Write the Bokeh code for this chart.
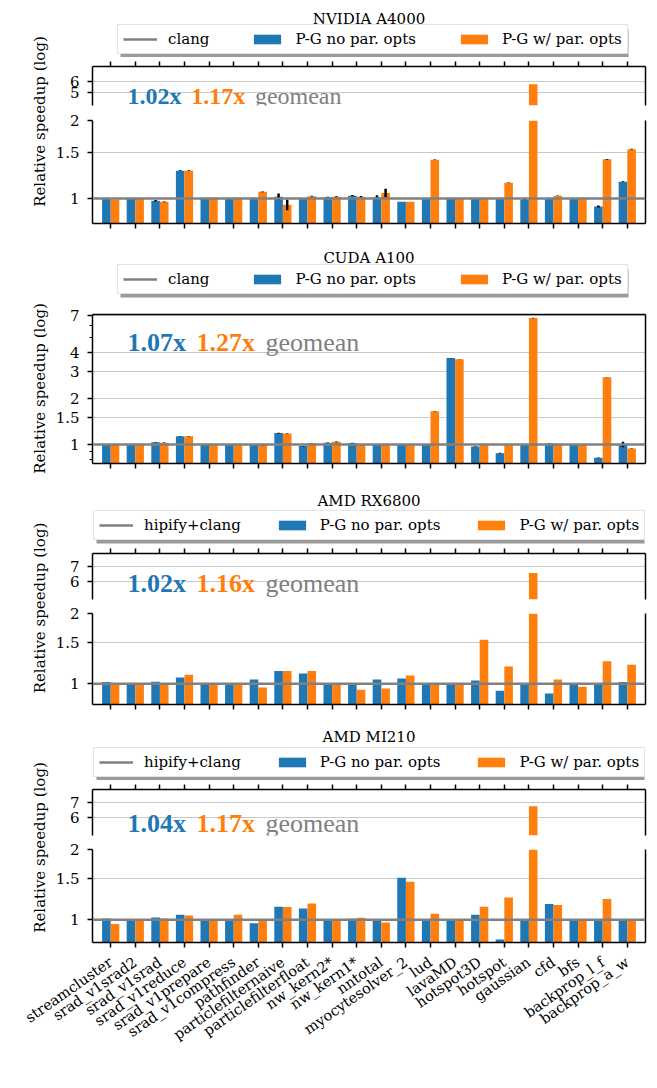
from math import pi
from bokeh.plotting import figure
from bokeh.models import (FactorRange, Range1d, FixedTicker, NumeralTickFormatter, Span, Label,
                          Legend, LegendItem, ColumnDataSource, LinearAxis, CategoricalAxis,
                          CDSView, BooleanFilter, BoxAnnotation)
from bokeh.transform import dodge
from bokeh.layouts import column, row
from bokeh.embed import file_html
from bokeh.resources import INLINE

# ---------------- data ----------------
benchmarks = ["streamcluster", "srad_v1srad2", "srad_v1srad", "srad_v1reduce", "srad_v1prepare",
              "srad_v1compress", "pathfinder", "particlefilternaive", "particlefilterfloat",
              "nw_kern2*", "nw_kern1*", "nntotal", "myocytesolver_2", "lud", "lavaMD",
              "hotspot3D", "hotspot", "gaussian", "cfd", "bfs", "backprop_l_f", "backprop_a_w"]

clang_baseline = [1.0] * len(benchmarks)

a4000_nopar = [1.00, 1.00, 0.98, 1.28, 1.00, 1.00, 1.00, 1.015, 1.00, 1.01, 1.025, 1.01,
               0.97, 1.00, 1.00, 1.00, 1.00, 0.99, 1.00, 1.00, 0.93, 1.16]
a4000_par = [0.99, 1.00, 0.97, 1.28, 1.00, 1.00, 1.06, 0.945, 1.02, 1.015, 1.015, 1.05,
             0.97, 1.41, 1.00, 1.00, 1.15, 5.7, 1.024, 1.00, 1.416, 1.55]
a4000_nopar_err = [0, 0, 0.006, 0.004, 0, 0.004, 0.006, 0.03, 0, 0.004, 0.006, 0.018,
                   0, 0, 0, 0, 0, 0.004, 0, 0.004, 0.008, 0.004]
a4000_par_err = [0, 0, 0.004, 0.004, 0, 0, 0.004, 0.045, 0.003, 0.004, 0.006, 0.04,
                 0, 0.003, 0, 0, 0.003, 0.02, 0.003, 0.006, 0.004, 0.004]

a100_nopar = [1.00, 1.00, 1.035, 1.13, 1.00, 1.00, 1.00, 1.186, 0.975, 1.025, 1.02, 1.00,
              1.00, 1.00, 3.68, 0.97, 0.877, 1.00, 1.015, 1.00, 0.818, 1.00]
a100_par = [1.00, 1.00, 1.025, 1.13, 1.00, 1.00, 0.99, 1.18, 1.02, 1.04, 0.99, 1.00,
            1.00, 1.65, 3.61, 1.00, 1.00, 6.73, 1.00, 1.00, 2.75, 0.94]
a100_nopar_err = [0.005, 0.004, 0.004, 0.004, 0.003, 0.003, 0.006, 0.005, 0.004, 0.004, 0.007, 0.006,
                  0.006, 0.007, 0.01, 0.004, 0.004, 0.006, 0.006, 0.007, 0.004, 0.04]
a100_par_err = [0.005, 0.004, 0.004, 0.004, 0.003, 0.003, 0.006, 0.005, 0.003, 0.005, 0.004, 0.006,
                0.006, 0.006, 0.01, 0.004, 0.004, 0.02, 0.004, 0.008, 0.01, 0.004]

rx6800_nopar = [1.017, 1.00, 1.02, 1.064, 1.00, 1.00, 1.043, 1.133, 1.106, 1.00, 1.00, 1.043,
                1.053, 1.00, 1.00, 1.033, 0.934, 1.00, 0.909, 1.00, 1.00, 1.017]
rx6800_par = [1.00, 1.00, 1.00, 1.092, 1.00, 1.00, 0.964, 1.133, 1.133, 1.00, 0.943, 0.955,
              1.085, 1.00, 1.00, 1.545, 1.185, 6.55, 1.043, 0.971, 1.25, 1.205]

mi210_nopar = [1.013, 1.00, 1.023, 1.051, 1.00, 1.00, 0.968, 1.138, 1.119, 1.00, 1.01, 1.00,
               1.514, 1.00, 1.00, 1.051, 0.825, 1.00, 1.169, 1.00, 1.00, 1.00]
mi210_par = [0.961, 1.00, 1.013, 1.045, 1.00, 1.051, 1.00, 1.135, 1.176, 1.00, 1.02, 0.974,
             1.455, 1.061, 1.00, 1.138, 1.245, 6.74, 1.157, 1.00, 1.228, 1.00]

titles = ["NVIDIA A4000", "CUDA A100", "AMD RX6800", "AMD MI210"]
baseline_names = ["clang", "clang", "hipify+clang", "hipify+clang"]
geomean_nopar = ["1.02x", "1.07x", "1.02x", "1.04x"]
geomean_par = ["1.17x", "1.27x", "1.16x", "1.17x"]
series_names = ["P-G no par. opts", "P-G w/ par. opts"]
ylabel_text = "Relative speedup (log)"

# ---------------- style ----------------
FONT = "DejaVu Serif"
GEOFONT = "Liberation Serif"
BLUE, ORANGE, GRAY, GRID = "#1f77b4", "#ff7f0e", "#808080", "#c8c8c8"
SHADOW = "#9a9a9a"
LEFT_W = 52
FIG_W = 603
BORDER_L, BORDER_R = 40, 10
FRAME_W = FIG_W - BORDER_L - BORDER_R
UP_TOP = 9
BAR_W = 0.35
BAR_FLOOR = 0.5
LEG_H = 28

x_range = FactorRange(factors=benchmarks, range_padding=0.24, range_padding_units="absolute")


def make_source(nopar, par, nopar_err=None, par_err=None):
    n = len(benchmarks)
    nopar_err = nopar_err or [0] * n
    par_err = par_err or [0] * n
    return ColumnDataSource(dict(
        bench=benchmarks, nopar=nopar, par=par, base=clang_baseline,
        nopar_lo=[v - e for v, e in zip(nopar, nopar_err)],
        nopar_hi=[v + e for v, e in zip(nopar, nopar_err)],
        par_lo=[v - e for v, e in zip(par, par_err)],
        par_hi=[v + e for v, e in zip(par, par_err)]))


def style_axis(ax):
    ax.axis_line_color = "black"
    ax.axis_line_width = 1.5
    ax.major_tick_line_color = "black"
    ax.major_tick_line_width = 1.5
    ax.major_tick_in = 0
    ax.major_tick_out = 5
    ax.minor_tick_line_color = "black"
    ax.minor_tick_line_width = 1.2
    ax.minor_tick_in = 0
    ax.minor_tick_out = 3
    ax.major_label_text_font = FONT
    ax.major_label_text_font_size = "15px"
    ax.major_label_text_color = "black"


def hide_labels(ax):
    ax.major_label_overrides = {b: "" for b in benchmarks}
    ax.major_label_text_color = None
    ax.major_label_text_font_size = "1px"
    ax.major_label_standoff = 0


def make_fig(height, b_top, b_bottom, y_lo, y_hi, yticks, yminor, xloc):
    p = figure(width=FIG_W, height=height, x_range=x_range, y_range=Range1d(y_lo, y_hi),
               y_axis_type="log", x_axis_location=xloc, output_backend="svg",
               toolbar_location=None, min_border_left=BORDER_L, min_border_right=BORDER_R,
               min_border_top=b_top, min_border_bottom=b_bottom, title_location=None)
    p.outline_line_color = None
    p.background_fill_color = "white"
    p.border_fill_color = "white"
    p.xgrid.grid_line_color = None
    p.ygrid.grid_line_color = GRID
    p.ygrid.grid_line_width = 1
    ya = p.yaxis[0]
    ya.ticker = FixedTicker(ticks=yticks, minor_ticks=yminor)
    ya.formatter = NumeralTickFormatter(format="0.[0]")
    style_axis(ya)
    ya.major_label_standoff = 8
    xa = p.xaxis[0]
    style_axis(xa)
    hide_labels(xa)
    ra = LinearAxis(ticker=FixedTicker(ticks=[]), major_tick_out=0, major_tick_in=0,
                    minor_tick_out=0, minor_tick_in=0, major_label_standoff=0,
                    axis_line_width=1.5, axis_line_color="black")
    p.add_layout(ra, "right")
    return p


def add_bars(p, src, with_err=False, floor=None):
    kw1, kw2 = {}, {}
    if floor is not None:
        # upper part of a broken axis: only bars that reach into it
        kw1["view"] = CDSView(filter=BooleanFilter([v > floor for v in src.data["nopar"]]))
        kw2["view"] = CDSView(filter=BooleanFilter([v > floor for v in src.data["par"]]))
    r1 = p.vbar(x=dodge("bench", -BAR_W / 2, range=x_range), top="nopar", bottom=BAR_FLOOR,
                width=BAR_W, fill_color=BLUE, line_color=None, source=src, **kw1)
    r2 = p.vbar(x=dodge("bench", BAR_W / 2, range=x_range), top="par", bottom=BAR_FLOOR,
                width=BAR_W, fill_color=ORANGE, line_color=None, source=src, **kw2)
    if with_err:
        p.segment(x0=dodge("bench", -BAR_W / 2, range=x_range), y0="nopar_lo",
                  x1=dodge("bench", -BAR_W / 2, range=x_range), y1="nopar_hi",
                  line_color="black", line_width=2.5, source=src)
        p.segment(x0=dodge("bench", BAR_W / 2, range=x_range), y0="par_lo",
                  x1=dodge("bench", BAR_W / 2, range=x_range), y1="par_hi",
                  line_color="black", line_width=2.5, source=src)
    return r1, r2


def add_baseline(p):
    p.add_layout(Span(location=1, dimension="width", line_color=GRAY, line_width=2.5))


def header_fig(i, src, height, title_y, leg_x, leg_y, spacing, leg_w):
    # title + legend strip; its y-range lies far above the data so the proxy
    # renderers used for the legend glyphs stay out of view
    p = figure(width=FIG_W, height=height, x_range=x_range, y_range=Range1d(100, 101),
               output_backend="svg", toolbar_location=None, x_axis_location=None,
               y_axis_location=None, title_location=None, min_border_left=BORDER_L,
               min_border_right=BORDER_R, min_border_top=0, min_border_bottom=0)
    p.outline_line_color = None
    p.grid.visible = False
    r0 = p.line(x="bench", y="base", line_color=GRAY, line_width=2.5, source=src)
    r1, r2 = add_bars(p, src)
    p.add_layout(BoxAnnotation(left=leg_x + 3, right=leg_x + leg_w + 3,
                               bottom=leg_y - 3, top=leg_y + LEG_H - 3,
                               left_units="screen", right_units="screen",
                               top_units="screen", bottom_units="screen",
                               fill_color=SHADOW, fill_alpha=1.0, line_color=None))
    leg = Legend(items=[LegendItem(label=baseline_names[i], renderers=[r0]),
                        LegendItem(label=series_names[0], renderers=[r1]),
                        LegendItem(label=series_names[1], renderers=[r2])],
                 location=(leg_x, leg_y), orientation="horizontal",
                 label_text_font=FONT, label_text_font_size="15px", label_text_color="black",
                 glyph_width=34, glyph_height=12, label_standoff=11, spacing=spacing,
                 padding=5, margin=0, label_height=LEG_H - 10,
                 border_line_color="#c8c8c8", border_line_width=1.2,
                 background_fill_color="white", background_fill_alpha=1.0)
    p.add_layout(leg)
    p.add_layout(Label(x=FRAME_W / 2, y=title_y, x_units="screen", y_units="screen",
                       text=titles[i], text_align="center", text_baseline="alphabetic",
                       text_font=FONT, text_font_size="15px", text_color="black"))
    return p


def add_geomean(p, i, y, size=26):
    k = size / 26.0
    for x, txt, col, style in ((35, geomean_nopar[i], BLUE, "bold"),
                               (35 + 69 * k, geomean_par[i], ORANGE, "bold"),
                               (35 + 138 * k, "geomean", GRAY, "normal")):
        p.add_layout(Label(x=x, y=y, x_units="screen", y_units="screen", text=txt,
                           text_align="left", text_baseline="alphabetic",
                           text_font=GEOFONT, text_font_size=f"{size}px",
                           text_font_style=style, text_color=col))


def ylabel_fig(height, yc):
    p = figure(width=LEFT_W, height=height, output_backend="svg", toolbar_location=None,
               x_axis_location=None, y_axis_location=None, title_location=None, min_border=0)
    p.outline_line_color = None
    p.grid.visible = False
    p.add_layout(Label(x=39, y=yc, x_units="screen", y_units="screen", text=ylabel_text,
                       angle=pi / 2, text_align="center", text_baseline="middle",
                       text_font=FONT, text_font_size="15px", text_color="black"))
    return p


def broken_panel(i, nopar, par, hdr_h, title_y, leg_xy, spacing, leg_w, up_h, up_range,
                 up_ticks, lo_h, lo_top, lo_bottom, lo_range, geo_y, ylab_c,
                 nerr=None, perr=None, geo_size=26):
    src = make_source(nopar, par, nerr, perr)
    hdr = header_fig(i, src, hdr_h, title_y, leg_xy[0], leg_xy[1], spacing, leg_w)
    up = make_fig(up_h, UP_TOP, 3, up_range[0], up_range[1], up_ticks, [], "above")
    add_bars(up, src, floor=up_range[0])
    add_geomean(up, i, geo_y, geo_size)
    lo = make_fig(lo_h, lo_top, lo_bottom, lo_range[0], lo_range[1], [1, 1.5, 2], [], "below")
    add_bars(lo, src, nerr is not None)
    add_baseline(lo)
    yl = ylabel_fig(hdr_h + up_h + lo_h, ylab_c)
    return row(yl, column(hdr, up, lo))


# Panel 1: NVIDIA A4000 (broken axis)
panel1 = broken_panel(0, a4000_nopar, a4000_par, 57, 38.7, (25, 3), 41, 508, 51,
                      (4.05, 7.6), [5, 6], 128, 12, 13, (0.8, 2.0), 9.5, 115,
                      a4000_nopar_err, a4000_par_err, geo_size=24)

# Panel 2: CUDA A100 (single log axis)
src2 = make_source(a100_nopar, a100_par, a100_nopar_err, a100_par_err)
hdr2 = header_fig(1, src2, 70, 48.7, 25, 12, 41, 508)
f2 = make_fig(170, 8, 13, 0.75, 7.1, [1, 1.5, 2, 3, 4, 7], [0.8, 0.9, 5, 6], "below")
top_spine = CategoricalAxis(major_tick_out=0, major_tick_in=0, major_tick_line_color=None,
                            axis_line_width=1.5, axis_line_color="black")
hide_labels(top_spine)
f2.add_layout(top_spine, "above")
add_bars(f2, src2, True)
add_baseline(f2)
add_geomean(f2, 1, 121)
panel2 = row(ylabel_fig(240, 88), column(hdr2, f2))

# Panel 3: AMD RX6800
panel3 = broken_panel(2, rx6800_nopar, rx6800_par, 68, 44, (1, 4), 34, 548, 58,
                      (5.0, 8.0), [6, 7], 111, 11, 9, (0.815, 2.0), 15.7, 105.5)

# Panel 4: AMD MI210 (x tick labels drawn by a full-width strip below)
panel4 = broken_panel(3, mi210_nopar, mi210_par, 67, 43.3, (1, 3), 34, 548, 58,
                      (5.0, 8.0), [6, 7], 110, 11, 6, (0.8, 2.0), 11.7, 101)

xlab = figure(width=LEFT_W + FIG_W, height=140, x_range=x_range, y_range=Range1d(0, 1),
              output_backend="svg", toolbar_location=None, y_axis_location=None,
              title_location=None, min_border_left=LEFT_W + BORDER_L,
              min_border_right=BORDER_R, min_border_top=0, min_border_bottom=139)
xlab.outline_line_color = None
xlab.grid.visible = False
xax = xlab.xaxis[0]
xax.axis_line_color = None
xax.major_tick_line_color = None
xax.major_tick_out = 0
xax.major_tick_in = 0
xax.major_label_orientation = 35 * pi / 180
xax.major_label_standoff = 11
xax.major_label_text_font = FONT
xax.major_label_text_font_size = "14.5px"
xax.major_label_text_color = "black"

layout = column(panel1, panel2, panel3, panel4, xlab)

open("out.html", "w").write(file_html(layout, INLINE))
